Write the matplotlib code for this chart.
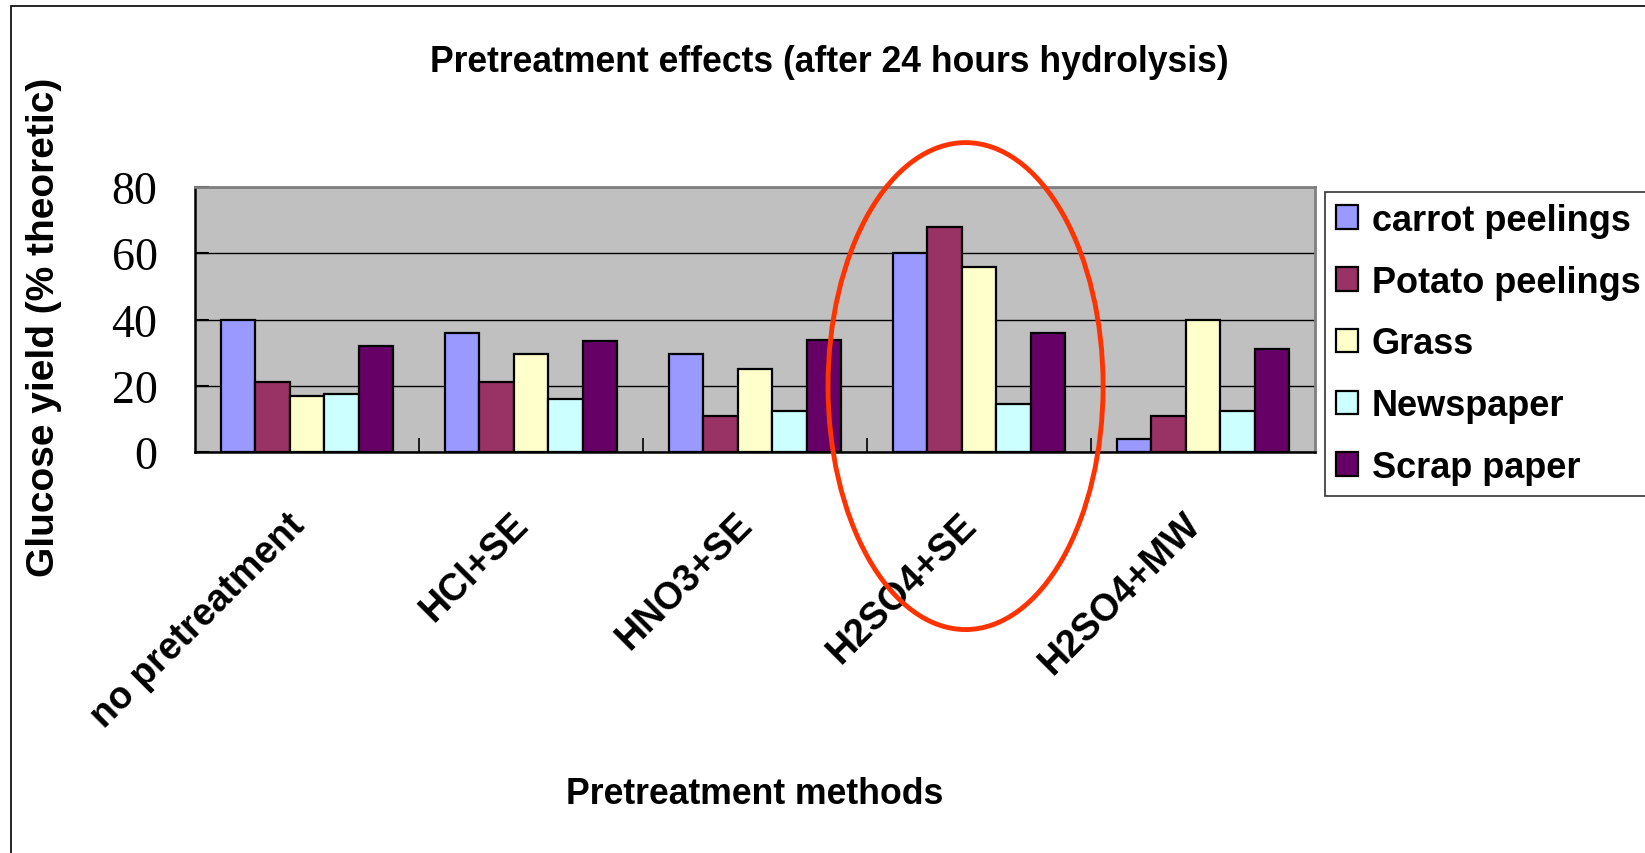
import matplotlib
matplotlib.use("Agg")
from matplotlib import pyplot as plt
from matplotlib.patches import Ellipse, Rectangle
import matplotlib.transforms as mtransforms
import numpy as np

methods = ["no pretreatment", "HCl+SE", "HNO3+SE", "H2SO4+SE", "H2SO4+MW"]
series = ["carrot peelings", "Potato peelings", "Grass", "Newspaper", "Scrap paper"]
carrot = [40, 36, 29.5, 60, 4]
potato = [21, 21, 11, 68, 11]
grass = [17, 29.5, 25, 56, 40]
newspaper = [17.5, 16, 12.5, 14.5, 12.5]
scrap = [32, 33.5, 33.7, 36, 31]
colors = ["#9999FF", "#993366", "#FFFFCC", "#CCFFFF", "#660066"]
highlight = 3  # H2SO4+SE group circled in red

plt.rcParams['font.family'] = ['Liberation Sans', 'DejaVu Sans']

def main():
    fig = plt.figure(figsize=(16.45, 8.54), dpi=100)
    ax = fig.add_axes([195 / 1645, 1 - 453 / 854, 1120 / 1645, 265 / 854])
    ax.set_facecolor("#C0C0C0")

    values = [carrot, potato, grass, newspaper, scrap]
    x = np.arange(len(methods))
    w = 1 / 6.5
    for i, (name, vals) in enumerate(zip(series, values)):
        ax.bar(x + (i - 2) * w, vals, w, color=colors[i], edgecolor="black",
               linewidth=1.6, label=name, zorder=3)

    ax.set_xlim(-0.5, len(methods) - 0.5)
    ax.set_ylim(0, 80)
    ax.set_yticks([0, 20, 40, 60, 80])
    ax.yaxis.grid(True, color="black", linewidth=1.0, zorder=1)
    ax.set_axisbelow(True)
    ax.tick_params(axis="y", direction="in", length=10, width=1.5, pad=27,
                   labelsize=33)
    for t in ax.get_yticklabels():
        t.set_fontfamily("Liberation Serif")

    ax.set_xticks(x)
    ax.set_xticklabels(methods, rotation=45, ha="right", fontsize=27,
                       fontweight="bold")
    ax.tick_params(axis="x", which="major", length=0, pad=39)
    shift = mtransforms.ScaledTranslation(0.05, 0, fig.dpi_scale_trans)
    for t in ax.get_xticklabels():
        t.set_transform(t.get_transform() + shift)
    ax.set_xticks(np.arange(0.5, len(methods) - 0.5, 1), minor=True)
    ax.tick_params(axis="x", which="minor", direction="in", length=10, width=1.2)

    for s in ["top", "right"]:
        ax.spines[s].set_color("#808080")
        ax.spines[s].set_linewidth(2)
    for s in ["left", "bottom"]:
        ax.spines[s].set_color("black")
        ax.spines[s].set_linewidth(1.8)

    ax.set_ylabel("Glucose yield (% theoretic)", fontsize=28, fontweight="bold",
                  va="center")
    ax.yaxis.set_label_coords(-0.135, 0.475)
    ax.set_xlabel("Pretreatment methods", fontsize=25.7, fontweight="bold",
                  va="center")
    ax.xaxis.set_label_coords(0.5, -1.29)

    fig.text(0.504, 1 - 63 / 854, "Pretreatment effects (after 24 hours hydrolysis)",
             ha="center", va="center", fontsize=25.6, fontweight="bold")

    leg = ax.legend(loc="upper left", bbox_to_anchor=(1325 / 1645, 1 - 193 / 854),
                    bbox_transform=fig.transFigure, borderaxespad=0,
                    prop={"weight": "bold", "size": 26},
                    frameon=True, fancybox=False, edgecolor="black",
                    handlelength=0.62, handleheight=0.62, handletextpad=0.37,
                    labelspacing=0.74, borderpad=0.3)
    leg.get_frame().set_linewidth(1.2)

    # red ellipse around the H2SO4+SE group
    ell = Ellipse((highlight - 0.06, 19.9), 1.228, 147, fill=False,
                  edgecolor="#FF3300", linewidth=3.5, clip_on=False, zorder=10)
    ax.add_patch(ell)

    # outer chart border (cut off at right/bottom)
    fig.add_artist(Rectangle((10.5 / 1645, -0.1), 1.2, 1.1 - 7 / 854,
                             transform=fig.transFigure, fill=False,
                             edgecolor="black", linewidth=1.2))

    fig.savefig("out.png", dpi=100)

if __name__ == "__main__":
    main()
